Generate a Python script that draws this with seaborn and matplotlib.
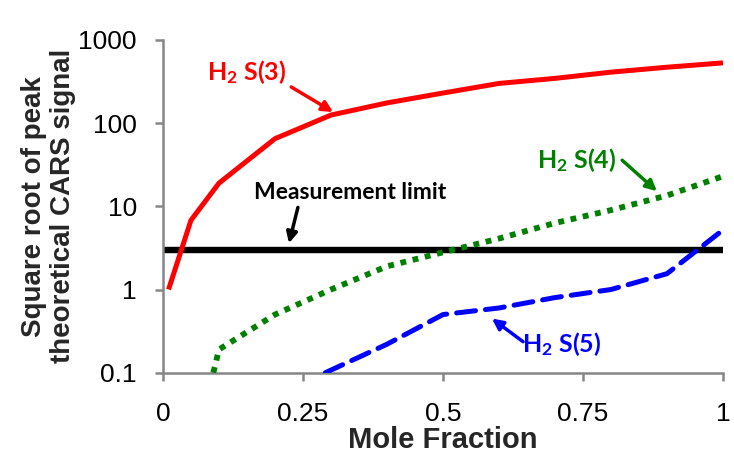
import numpy as np
import pandas as pd
import matplotlib
matplotlib.use("Agg")
import matplotlib.pyplot as plt
import seaborn as sns
from matplotlib.ticker import FixedLocator, FixedFormatter

# ---- data ----
s3_x = [0.01, 0.05, 0.1, 0.2, 0.3, 0.4, 0.5, 0.6, 0.7, 0.8, 0.9, 1.0]
s3_y = [1.0, 6.8, 19, 65, 125, 175, 230, 300, 345, 410, 470, 530]

s4_x = [0.09, 0.1, 0.2, 0.3, 0.4, 0.5, 0.6, 0.7, 0.8, 0.9, 1.0]
s4_y = [0.1, 0.19, 0.5, 1.0, 1.9, 2.8, 4.1, 6.3, 9.0, 13.5, 23]

s5_x = [0.29, 0.4, 0.5, 0.6, 0.7, 0.8, 0.9, 1.0]
s5_y = [0.1, 0.22, 0.5, 0.6, 0.8, 1.0, 1.55, 5.2]

limit_x = [0.0, 1.0]
limit_y = [3.0, 3.0]

x_ticks = [0, 0.25, 0.5, 0.75, 1]
x_tick_labels = ["0", "0.25", "0.5", "0.75", "1"]
y_ticks = [0.1, 1, 10, 100, 1000]
y_tick_labels = ["0.1", "1", "10", "100", "1000"]

# ---- style ----
sns.set_style("ticks")
plt.rcParams["font.family"] = ["Liberation Sans", "DejaVu Sans"]
plt.rcParams["mathtext.fontset"] = "custom"
plt.rcParams["mathtext.rm"] = "Lato:bold"
plt.rcParams["mathtext.it"] = "Lato:bold"
plt.rcParams["mathtext.bf"] = "Lato:bold"
plt.rcParams["mathtext.default"] = "rm"

fig = plt.figure(figsize=(7.34, 4.59), dpi=100)
ax = fig.add_axes([0.222, 0.188, 0.763, 0.725])

df_lim = pd.DataFrame({"x": limit_x, "y": limit_y})
df3 = pd.DataFrame({"x": s3_x, "y": s3_y})
df4 = pd.DataFrame({"x": s4_x, "y": s4_y})
df5 = pd.DataFrame({"x": s5_x, "y": s5_y})

sns.lineplot(data=df_lim, x="x", y="y", ax=ax, color="black", lw=4.6, zorder=2)
sns.lineplot(data=df3, x="x", y="y", ax=ax, color="#ff0000", lw=3.6, zorder=3,
             solid_joinstyle="round", solid_capstyle="butt")
sns.lineplot(data=df4, x="x", y="y", ax=ax, color="#008000", lw=4.2, zorder=3)
ax.lines[-1].set_linestyle((0, (1.0, 1.15)))
ax.lines[-1].set_dash_capstyle("butt")
sns.lineplot(data=df5, x="x", y="y", ax=ax, color="#0000ff", lw=3.6, zorder=3)
ax.lines[-1].set_linestyle((0, (3.8, 2.0)))
ax.lines[-1].set_dash_capstyle("round")

ax.set_yscale("log")
ax.set_xlim(0, 1)
ax.set_ylim(0.1, 1000)
ax.xaxis.set_major_locator(FixedLocator(x_ticks))
ax.xaxis.set_major_formatter(FixedFormatter(x_tick_labels))
ax.yaxis.set_major_locator(FixedLocator(y_ticks))
ax.yaxis.set_major_formatter(FixedFormatter(y_tick_labels))
ax.yaxis.set_minor_locator(FixedLocator([]))

for sp in ["top", "right"]:
    ax.spines[sp].set_visible(False)
for sp in ["left", "bottom"]:
    ax.spines[sp].set_color("#868686")
    ax.spines[sp].set_linewidth(1.8)
ax.tick_params(axis="both", which="major", length=5.8, width=1.8, color="#868686",
               labelsize=19, labelcolor="black")
ax.tick_params(axis="y", pad=13)
ax.tick_params(axis="x", pad=15.5)

ax.set_xlabel("Mole Fraction", fontsize=21, fontweight="bold", labelpad=0)
ax.set_ylabel("Square root of peak\ntheoretical CARS signal", fontsize=20,
              fontweight="bold", labelpad=2, linespacing=1.12)

# ---- annotations ----
afont = dict(family=["Lato", "DejaVu Sans"], fontweight="bold")
ax.text(0.15, 411, r"H$_2$ S(3)", color="#ff0000", fontsize=18,
        ha="center", va="center", **afont)
ax.annotate("", xy=(0.304, 136), xytext=(0.229, 272),
            arrowprops=dict(arrowstyle="-|>", color="#ff0000", lw=2.5,
                            mutation_scale=16, shrinkA=0, shrinkB=0))

ax.text(0.334, 14.7, "Measurement limit", color="black", fontsize=16.5,
        ha="center", va="center", **afont)
ax.annotate("", xy=(0.225, 3.6), xytext=(0.241, 9.7),
            arrowprops=dict(arrowstyle="-|>", color="black", lw=2.5,
                            mutation_scale=16, shrinkA=0, shrinkB=0))

ax.text(0.739, 35.8, r"H$_2$ S(4)", color="#008000", fontsize=18,
        ha="center", va="center", **afont)
ax.annotate("", xy=(0.882, 15.2), xytext=(0.82, 35.8),
            arrowprops=dict(arrowstyle="-|>", color="#008000", lw=2.5,
                            mutation_scale=16, shrinkA=0, shrinkB=0))

ax.text(0.7125, 0.224, r"H$_2$ S(5)", color="#0000ff", fontsize=18,
        ha="center", va="center", **afont)
ax.annotate("", xy=(0.5875, 0.447), xytext=(0.643, 0.236),
            arrowprops=dict(arrowstyle="-|>", color="#0000ff", lw=2.5,
                            mutation_scale=16, shrinkA=0, shrinkB=0))

fig.savefig("out.png", dpi=100)
